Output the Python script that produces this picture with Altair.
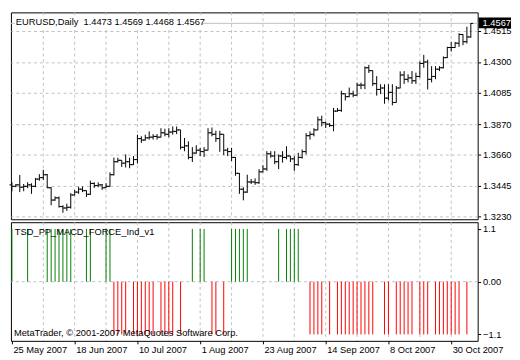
import altair as alt
import pandas as pd

FONT = "Liberation Sans"

symbol = "EURUSD,Daily"
indicator_name = "TSD_PP_MACD_FORCE_Ind_v1"
copyright_text = "MetaTrader, \u00a9 2001-2007 MetaQuotes Software Corp."

opens = [1.3450, 1.3440, 1.3450, 1.3434, 1.3440, 1.3450, 1.3440, 1.3490, 1.3500, 1.3520,
         1.3430, 1.3345, 1.3360, 1.3300, 1.3290, 1.3295, 1.3380, 1.3400, 1.3420, 1.3410,
         1.3385, 1.3460, 1.3445, 1.3450, 1.3430, 1.3440, 1.3520, 1.3610, 1.3620, 1.3600,
         1.3610, 1.3590, 1.3625, 1.3770, 1.3760, 1.3775, 1.3780, 1.3785, 1.3780, 1.3810,
         1.3800, 1.3815, 1.3820, 1.3830, 1.3710, 1.3720, 1.3640, 1.3670, 1.3690, 1.3680,
         1.3690, 1.3810, 1.3800, 1.3770, 1.3800, 1.3690, 1.3680, 1.3640, 1.3530, 1.3420,
         1.3400, 1.3470, 1.3470, 1.3465, 1.3540, 1.3560, 1.3665, 1.3650, 1.3610, 1.3650,
         1.3640, 1.3650, 1.3630, 1.3590, 1.3640, 1.3680, 1.3790, 1.3800, 1.3830, 1.3900,
         1.3880, 1.3870, 1.3860, 1.3960, 1.3965, 1.4080, 1.4060, 1.4080, 1.4070, 1.4140,
         1.4140, 1.4260, 1.4240, 1.4150, 1.4110, 1.4120, 1.4050, 1.4090, 1.4020, 1.4120,
         1.4210, 1.4180, 1.4190, 1.4170, 1.4200, 1.4290, 1.4300, 1.4180, 1.4200, 1.4250,
         1.4260, 1.4330, 1.4400, 1.4400, 1.4430, 1.4490, 1.4440, 1.4473]
highs = [1.3468, 1.3456, 1.3518, 1.3456, 1.3468, 1.3461, 1.3497, 1.3524, 1.3554, 1.3525,
         1.3434, 1.3370, 1.3370, 1.3309, 1.3320, 1.3393, 1.3415, 1.3438, 1.3438, 1.3412,
         1.3479, 1.3468, 1.3468, 1.3456, 1.3461, 1.3536, 1.3638, 1.3638, 1.3622, 1.3661,
         1.3638, 1.3649, 1.3797, 1.3786, 1.3797, 1.3820, 1.3801, 1.3801, 1.3842, 1.3838,
         1.3842, 1.3854, 1.3854, 1.3831, 1.3774, 1.3751, 1.3711, 1.3724, 1.3706, 1.3711,
         1.3842, 1.3847, 1.3824, 1.3824, 1.3801, 1.3706, 1.3706, 1.3642, 1.3532, 1.3434,
         1.3520, 1.3490, 1.3495, 1.3559, 1.3586, 1.3683, 1.3683, 1.3683, 1.3661, 1.3683,
         1.3717, 1.3651, 1.3649, 1.3672, 1.3695, 1.3808, 1.3820, 1.3842, 1.3922, 1.3928,
         1.3888, 1.3877, 1.3982, 1.3982, 1.4101, 1.4082, 1.4123, 1.4101, 1.4157, 1.4157,
         1.4269, 1.4280, 1.4241, 1.4202, 1.4146, 1.4146, 1.4146, 1.4146, 1.4134, 1.4235,
         1.4237, 1.4215, 1.4237, 1.4226, 1.4304, 1.4349, 1.4316, 1.4271, 1.4271, 1.4271,
         1.4338, 1.4405, 1.4439, 1.4439, 1.4499, 1.4492, 1.4544, 1.4569]
lows = [1.3406, 1.3434, 1.3400, 1.3406, 1.3427, 1.3388, 1.3434, 1.3479, 1.3484, 1.3427,
        1.3309, 1.3340, 1.3293, 1.3257, 1.3270, 1.3286, 1.3377, 1.3388, 1.3400, 1.3366,
        1.3380, 1.3429, 1.3434, 1.3415, 1.3428, 1.3438, 1.3515, 1.3604, 1.3574, 1.3570,
        1.3565, 1.3588, 1.3597, 1.3740, 1.3756, 1.3763, 1.3763, 1.3763, 1.3778, 1.3786,
        1.3779, 1.3797, 1.3801, 1.3695, 1.3683, 1.3627, 1.3608, 1.3665, 1.3649, 1.3643,
        1.3688, 1.3786, 1.3747, 1.3679, 1.3656, 1.3649, 1.3615, 1.3513, 1.3388, 1.3343,
        1.3395, 1.3456, 1.3450, 1.3456, 1.3536, 1.3547, 1.3638, 1.3593, 1.3559, 1.3604,
        1.3627, 1.3608, 1.3547, 1.3581, 1.3631, 1.3661, 1.3763, 1.3786, 1.3828, 1.3855,
        1.3843, 1.3850, 1.3821, 1.3955, 1.3955, 1.4034, 1.4056, 1.4056, 1.4067, 1.4112,
        1.4112, 1.4224, 1.4134, 1.4067, 1.4078, 1.4011, 1.4034, 1.4000, 1.4018, 1.4118,
        1.4148, 1.4159, 1.4148, 1.4148, 1.4192, 1.4260, 1.4110, 1.4159, 1.4181, 1.4237,
        1.4255, 1.4327, 1.4372, 1.4398, 1.4405, 1.4416, 1.4428, 1.4468]
closes = [1.3440, 1.3450, 1.3434, 1.3440, 1.3450, 1.3440, 1.3490, 1.3500, 1.3520, 1.3430,
          1.3345, 1.3360, 1.3300, 1.3290, 1.3295, 1.3380, 1.3400, 1.3420, 1.3410, 1.3385,
          1.3460, 1.3445, 1.3450, 1.3430, 1.3440, 1.3520, 1.3610, 1.3620, 1.3600, 1.3610,
          1.3590, 1.3625, 1.3770, 1.3760, 1.3775, 1.3780, 1.3785, 1.3780, 1.3810, 1.3800,
          1.3815, 1.3820, 1.3830, 1.3710, 1.3720, 1.3640, 1.3670, 1.3690, 1.3680, 1.3690,
          1.3810, 1.3800, 1.3770, 1.3800, 1.3690, 1.3680, 1.3640, 1.3530, 1.3420, 1.3400,
          1.3470, 1.3470, 1.3465, 1.3540, 1.3560, 1.3665, 1.3650, 1.3610, 1.3650, 1.3640,
          1.3650, 1.3630, 1.3590, 1.3640, 1.3680, 1.3790, 1.3800, 1.3830, 1.3900, 1.3880,
          1.3870, 1.3860, 1.3960, 1.3965, 1.4080, 1.4060, 1.4080, 1.4070, 1.4140, 1.4140,
          1.4260, 1.4240, 1.4150, 1.4110, 1.4120, 1.4050, 1.4090, 1.4020, 1.4120, 1.4210,
          1.4180, 1.4190, 1.4170, 1.4200, 1.4290, 1.4300, 1.4180, 1.4200, 1.4250, 1.4260,
          1.4330, 1.4400, 1.4400, 1.4430, 1.4490, 1.4440, 1.4473, 1.4567]

green_bars = [0, 4, 9, 10, 11, 12, 13, 14, 15, 19, 20, 24, 25, 46, 48, 49,
              56, 57, 58, 59, 60, 68, 70, 71, 72, 73]
red_bars = [26, 27, 28, 29, 31, 32, 33, 34, 35, 36, 38, 39, 40, 41, 43, 51, 52, 54,
            76, 77, 78, 79, 81, 83, 84, 85, 86, 87, 88, 89, 90, 91, 92, 95, 96, 98, 99,
            100, 101, 102, 104, 105, 106, 108, 109, 110, 111, 112, 113, 114, 116]
signal_level = 1.1

date_tick_index = [0, 16, 32, 48, 64, 80, 96, 112]
date_tick_labels = ["25 May 2007", "18 Jun 2007", "10 Jul 2007", "1 Aug 2007",
                    "23 Aug 2007", "14 Sep 2007", "8 Oct 2007", "30 Oct 2007"]
grid_index = [8, 16, 24, 32, 40, 48, 56, 64, 72, 80, 88, 96, 104, 112]
price_levels = [1.3230, 1.3445, 1.3660, 1.3870, 1.4085, 1.4300, 1.4515]
indicator_levels = [-1.1, 0.0, 1.1]

W = 476
H1 = 211
H2 = 121
GRID = "#c0c0c0"

n = len(closes)
df = pd.DataFrame({"i": list(range(n)), "open": opens, "high": highs,
                   "low": lows, "close": closes})
last = df.tail(1)
header = (symbol + "\u00a0\u00a0" + f"{opens[-1]:.4f} {highs[-1]:.4f} "
          f"{lows[-1]:.4f} {closes[-1]:.4f}")

sig_rows = ([{"i": k, "base": 0.0, "sig": signal_level, "col": "#008000"} for k in green_bars] +
            [{"i": k, "base": 0.0, "sig": -signal_level, "col": "#ff0000"} for k in red_bars])
ind_df = pd.DataFrame(sig_rows)

xscale = alt.Scale(domain=[-0.25, W / 4 - 0.25], nice=False, zero=False)


def xq(axis=None):
    return alt.X("i:Q", scale=xscale, axis=axis)


pscale = alt.Scale(domain=[1.3212, 1.4643], nice=False, zero=False)
paxis = alt.Axis(orient="right", values=price_levels, format=".4f", grid=True,
                 gridColor=GRID, gridDash=[3, 3], gridWidth=1, domain=False,
                 ticks=True, tickSize=3, tickColor="black", labelFont=FONT,
                 labelFontSize=9.5, labelColor="black", labelPadding=2, title=None)


def py(field):
    return alt.Y(field, scale=pscale, axis=paxis)


vgrid = alt.Chart(pd.DataFrame({"i": grid_index})).mark_rule(
    color=GRID, strokeDash=[3, 3], strokeWidth=1).encode(x=xq())
pline = alt.Chart(last).mark_rule(color=GRID, strokeWidth=1).encode(y=py("close:Q"))
title_df = pd.DataFrame({"t": [header]})
title_bg = alt.Chart(title_df).mark_rect(color="white").encode(
    x=alt.value(4), x2=alt.value(196), y=alt.value(3), y2=alt.value(17))
title_txt = alt.Chart(title_df).mark_text(
    align="left", baseline="middle", font=FONT, fontSize=9.5, color="black").encode(
    x=alt.value(5), y=alt.value(9.5), text="t:N")
hl = alt.Chart(df).mark_rule(color="black", strokeWidth=1).encode(
    x=xq(), y=py("low:Q"), y2="high:Q")
op = alt.Chart(df).mark_rule(color="black", strokeWidth=1, xOffset=-2.5).encode(
    x=xq(), x2="i:Q", y=py("open:Q"))
cl = alt.Chart(df).mark_rule(color="black", strokeWidth=1, x2Offset=2.5).encode(
    x=xq(), x2="i:Q", y=py("close:Q"))
pbox = alt.Chart(last).mark_rect(color="black", yOffset=-6, y2Offset=5).encode(
    x=alt.value(W + 1), x2=alt.value(W + 34), y=py("close:Q"), y2="close:Q")
ptxt = alt.Chart(last).mark_text(
    align="left", baseline="middle", font=FONT, fontSize=9.5, color="white").encode(
    x=alt.value(W + 5), y=py("close:Q"), text=alt.Text("close:Q", format=".4f"))

main = alt.layer(vgrid, pline, title_bg, hl, op, cl, title_txt, pbox, ptxt).properties(
    width=W, height=H1)

iscale = alt.Scale(domain=[-1.235, 1.24], nice=False, zero=False)
iaxis = alt.Axis(orient="right", values=indicator_levels,
                 labelExpr="datum.value == 0 ? '0.00' : format(datum.value, '.1f')",
                 grid=False, domain=False, tickSize=3, tickColor="black",
                 labelFont=FONT, labelFontSize=9.5, labelColor="black",
                 labelPadding=2, title=None)
label_js = "[" + ",".join("'" + s + "'" for s in date_tick_labels) + "]"
index_js = "[" + ",".join(str(v) for v in date_tick_index) + "]"
xaxis = alt.Axis(orient="bottom", values=date_tick_index,
                 labelExpr=label_js + "[indexof(" + index_js + ", datum.value)]",
                 labelAlign="left", labelOffset=1, labelPadding=1, tickSize=3,
                 tickColor="black", domain=False, grid=False, labelFont=FONT,
                 labelFontSize=9.5, labelColor="black", labelFlush=False,
                 labelOverlap=False, title=None)

vgrid2 = alt.Chart(pd.DataFrame({"i": grid_index})).mark_rule(
    color=GRID, strokeDash=[3, 3], strokeWidth=1).encode(x=xq(xaxis))
zero = alt.Chart(pd.DataFrame({"v": [0.0]})).mark_rule(
    color=GRID, strokeDash=[3, 3], strokeWidth=1).encode(
    y=alt.Y("v:Q", scale=iscale, axis=iaxis))
bars = alt.Chart(ind_df).mark_rule(strokeWidth=1).encode(
    x=xq(xaxis), y=alt.Y("base:Q", scale=iscale, axis=iaxis), y2="sig:Q",
    color=alt.Color("col:N", scale=None))
name_txt = alt.Chart(pd.DataFrame({"t": [indicator_name]})).mark_text(
    align="left", baseline="middle", font=FONT, fontSize=9.5, color="black").encode(
    x=alt.value(4), y=alt.value(10), text="t:N")
copy_txt = alt.Chart(pd.DataFrame({"t": [copyright_text]})).mark_text(
    align="left", baseline="middle", font=FONT, fontSize=9.5, color="black").encode(
    x=alt.value(3), y=alt.value(H2 - 8), text="t:N")

ind = alt.layer(vgrid2, zero, bars, name_txt, copy_txt).properties(width=W, height=H2)

chart = alt.vconcat(main, ind, spacing=3).properties(
    padding=0, bounds="flush").configure(font=FONT).configure_view(
    stroke="black", strokeWidth=1)

chart.save("out.html", embed_options={"renderer": "svg", "actions": False})
